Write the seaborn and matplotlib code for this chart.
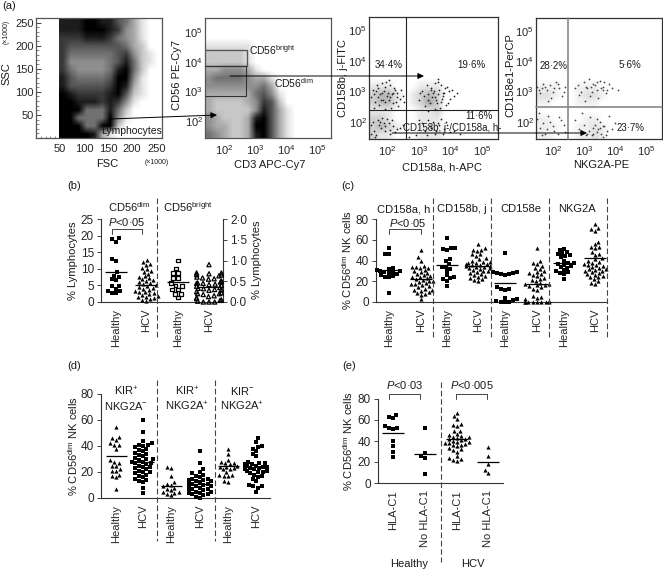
import numpy as np
import pandas as pd
import seaborn as sns
import matplotlib
matplotlib.use('Agg')
import matplotlib.pyplot as plt
import warnings

warnings.filterwarnings('ignore')

W, H = 663, 570
DOT = '\u00b7'

sns.set_style('ticks')
plt.rcParams['font.family'] = ['Liberation Sans', 'DejaVu Sans']
plt.rcParams['mathtext.fontset'] = 'custom'
plt.rcParams['mathtext.rm'] = 'Liberation Sans'
plt.rcParams['mathtext.it'] = 'Liberation Sans:italic'
plt.rcParams['font.size'] = 8

# (a) density maps, 0 = white, 9 = black
fsc_ssc_rows = ['8889988653100', '8889998743100', '7778887543100', '7666666653200',
                '7555555674210', '7444445685210', '7544445895200', '8655556994100',
                '8666667983100', '9877778962100', '9988878741000', '9995558520000',
                '9955559410000', '9995599200000', '9999831000000']
cd3_cd56_rows = ['0000000000000000', '0000000000000000', '0000000000000000', '1111110000000000',
                 '2222210000000000', '2222210000000000', '3344431000000000', '4555543310000000',
                 '4444444530000000', '3333335641000000', '3222234762000000', '3222224863100000',
                 '4322238963100000', '4332239963100000', '5432238963100000']
kir_a_rows = ['0000000000000000', '0000000000000000', '0000000000000000', '0000000000000000',
              '0000000000000000', '0000000000000000', '0000000000000000', '0000000000000000',
              '1110001110000000', '2331012320000000', '2331012420000000', '1110001120000000',
              '2210001110000000', '2321001110000000', '2110001110000000']
kir_e_rows = ['0000000000000000', '0000000000000000', '0000000000000000', '0000000000000000',
              '0000000000000000', '0000000000000000', '0000000000000000', '0000000000000000',
              '1110011100000000', '2210012210000000', '1100011100000000', '0000000000000000',
              '1100001100000000', '1110011210000000', '1100011210000000']

# log10 positions of the single dots in the two KIR plots
kir_a_x = [1.6, 1.7, 1.8, 1.9, 2.0, 2.1, 2.2, 2.3, 2.4, 1.5, 1.65, 1.75, 1.85, 1.95, 2.05, 2.15, 2.25, 2.35, 2.5, 1.55,
           1.72, 1.83, 1.92, 2.02, 2.12, 2.22, 2.32, 1.62, 1.78, 1.88, 1.98, 2.08, 2.18, 2.28, 1.58, 1.68, 2.45, 2.55, 1.95, 2.05,
           3.0, 3.1, 3.2, 3.3, 3.4, 3.5, 3.6, 3.7, 3.8, 3.9, 4.0, 4.1, 3.15, 3.25, 3.35, 3.45, 3.55, 3.65, 3.75, 3.85,
           3.95, 4.2, 3.05, 3.28, 3.42, 3.52, 3.62, 3.72, 3.82, 3.58, 3.48, 3.68, 3.78, 3.38, 3.92, 4.05, 3.6, 3.5, 3.7, 3.3,
           1.5, 1.6, 1.7, 1.8, 1.9, 2.0, 2.1, 2.2, 2.3, 1.55, 1.65, 1.75, 1.85, 1.95, 2.05, 2.15, 2.25, 2.4, 1.62, 1.78,
           1.92, 2.08, 1.48, 2.5, 3.1, 3.2, 3.3, 3.4, 3.5, 3.6, 3.7, 3.8, 3.9, 4.0, 3.25, 3.35, 3.45, 3.55, 3.65, 3.75,
           2.9, 3.0, 3.85, 4.1, 2.7, 4.3]
kir_a_y = [2.9, 3.1, 2.7, 3.0, 2.85, 3.2, 2.6, 2.95, 2.75, 2.8, 3.0, 2.55, 2.95, 3.15, 2.7, 2.9, 3.05, 2.5, 2.85, 3.05,
           2.8, 3.25, 2.65, 2.95, 2.45, 3.1, 2.8, 2.65, 2.9, 2.7, 3.3, 2.8, 2.95, 2.65, 2.45, 3.2, 3.05, 2.65, 2.4, 3.35,
           2.7, 3.0, 2.5, 2.9, 3.1, 2.8, 3.3, 2.65, 2.95, 3.15, 2.75, 2.85, 2.85, 3.2, 2.6, 2.95, 2.7, 3.05, 2.85, 2.55,
           3.0, 2.95, 2.95, 2.7, 2.8, 3.25, 2.9, 2.75, 3.1, 2.6, 3.0, 2.45, 2.95, 3.05, 2.6, 3.05, 3.4, 2.4, 3.2, 2.35,
           1.9, 1.7, 2.05, 1.8, 1.95, 2.1, 1.6, 1.85, 1.75, 2.0, 1.55, 1.9, 2.12, 1.7, 1.95, 2.05, 1.65, 1.8, 1.5, 1.98,
           1.85, 1.72, 1.6, 1.9, 1.95, 1.7, 2.05, 1.8, 1.6, 1.95, 2.1, 1.75, 1.9, 1.65, 1.55, 1.85, 2.0, 1.7, 1.88, 1.6,
           1.55, 2.05, 2.0, 1.7, 1.5, 1.6]
kir_e_x = [1.5, 1.6, 1.7, 1.8, 1.9, 2.0, 2.1, 2.2, 2.3, 2.4, 1.55, 1.75, 1.95, 2.15, 2.35, 1.65, 1.85, 2.05,
           2.7, 2.8, 2.9, 3.0, 3.1, 3.2, 3.3, 3.4, 3.5, 3.6, 3.7, 3.8, 3.9, 2.85, 3.05, 3.15, 3.25, 3.35, 3.45, 3.55, 3.65, 3.75, 4.1,
           3.02, 3.22, 3.42, 3.62,
           1.5, 1.6, 1.75, 1.9, 2.05, 2.2, 2.35, 1.65, 1.85, 2.0, 2.15, 1.55, 1.8, 2.25, 1.7, 2.4,
           2.7, 2.85, 3.0, 3.1, 3.2, 3.3, 3.4, 3.5, 3.6, 3.7, 3.8, 3.9, 4.0, 3.15, 3.25, 3.35, 3.45, 3.55, 3.65, 3.75, 2.95, 3.05, 3.3, 3.5, 3.4, 3.6]
kir_e_y = [3.15, 2.95, 3.25, 3.05, 3.2, 3.0, 3.3, 3.1, 2.85, 3.15, 3.05, 3.15, 2.8, 3.25, 3.0, 3.1, 2.7, 3.1,
           3.1, 3.2, 3.0, 3.3, 3.1, 2.85, 3.25, 3.05, 3.35, 3.15, 2.95, 3.25, 3.1, 2.9, 3.15, 3.4, 3.0, 3.2, 2.8, 3.1, 3.3, 3.05, 3.05,
           2.7, 3.15, 3.3, 3.05,
           2.1, 1.8, 1.6, 2.0, 1.7, 2.15, 1.9, 1.55, 2.2, 1.85, 1.6, 2.3, 1.75, 2.05, 1.95, 1.65,
           2.05, 1.75, 1.9, 1.6, 2.15, 1.8, 1.65, 2.0, 1.85, 1.55, 2.2, 1.75, 1.95, 1.7, 1.55, 1.9, 1.75, 1.6, 1.85, 1.7, 2.3, 1.55, 1.6, 1.8, 2.1, 1.5]

# (b) % lymphocytes
b_labels = ['Healthy', 'HCV', 'Healthy', 'HCV']
b_dim_healthy = [19.2, 18.9, 18.2, 13.0, 12.4, 9.0, 7.9, 7.5, 6.9, 6.5, 4.9, 4.7, 4.0, 3.3, 3.2, 2.6, 2.6]
b_dim_hcv = [12.6, 12.0, 11.5, 11.0, 10.2, 9.8, 9.4, 9.0, 8.5, 7.8, 7.5, 7.2, 6.8, 6.5, 6.2, 5.9, 5.6, 5.3, 5.0, 4.8,
             4.5, 4.2, 4.0, 3.7, 3.4, 3.1, 2.9, 2.6, 2.4, 2.1, 1.9, 1.6, 1.4, 1.1, 0.9, 0.6, 0.3]
b_bright_healthy = [1.0, 0.81, 0.7, 0.7, 0.58, 0.58, 0.46, 0.4, 0.38, 0.3, 0.3, 0.2, 0.2, 0.11]
b_bright_hcv = [0.9, 0.7, 0.7, 0.68, 0.66, 0.65, 0.63, 0.6, 0.58, 0.56, 0.55, 0.5, 0.5, 0.48, 0.46, 0.45, 0.45, 0.43, 0.42, 0.4,
                0.38, 0.35, 0.33, 0.32, 0.3, 0.3, 0.28, 0.25, 0.22, 0.2, 0.2, 0.18, 0.15, 0.13, 0.1, 0.08, 0.05, 0.04, 0.02, 0.0, 0.0, 0.0]
b_dim_means = [9.0, 5.0]
b_bright_means = [0.47, 0.36]

# (c) % CD56dim NK cells
c_labels = ['Healthy', 'HCV'] * 4
c_values = [
    [52, 46, 46, 33, 32, 31, 30, 30, 29, 29, 28, 27, 26, 25, 24, 24, 9],
    [50, 43, 40, 35, 34, 34, 33, 33, 31, 30, 29, 28, 27, 26, 25, 24, 24, 23, 22, 21, 20, 20, 19, 18, 17, 17, 16, 15, 14, 13, 12, 12, 11, 10, 9, 8, 7, 3],
    [62, 52, 52, 51, 50, 41, 40, 37, 34, 34, 32, 30, 26, 24, 23, 22, 20, 15],
    [56, 52, 50, 50, 49, 46, 46, 44, 42, 41, 40, 39, 39, 38, 38, 37, 37, 36, 36, 35, 35, 34, 34, 33, 33, 32, 31, 30, 30, 29, 28, 27, 26, 25, 24, 23, 22, 21, 20],
    [47, 29, 29, 28, 28, 27, 27, 26, 14, 13, 13, 12, 4, 3, 2, 1, 0, 0, 0],
    [52, 40, 38, 37, 35, 33, 32, 30, 29, 28, 27, 26, 25, 23, 22, 21, 20, 18, 17, 17, 16, 16, 15, 14, 13, 12, 6, 5, 4, 3, 1, 0, 0, 0, 0, 0, 0, 0, 0],
    [51, 50, 48, 47, 46, 45, 44, 43, 40, 38, 38, 37, 36, 35, 34, 33, 31, 30, 29, 28, 27, 22],
    [75, 71, 70, 68, 58, 56, 53, 53, 52, 48, 46, 45, 42, 41, 40, 39, 38, 37, 36, 36, 35, 34, 33, 32, 32, 31, 30, 30, 29, 28, 27, 26, 25, 24, 24, 22, 20, 18, 17],
]
c_means = [31, 22, 36, 35, 18, 17, 38, 42]

# (d) % CD56dim NK cells
d_labels = ['Healthy', 'HCV'] * 3
d_values = [
    [55, 47, 46, 45, 42, 41, 41, 38, 29, 28, 27, 25, 25, 22, 21, 21, 18, 17, 16, 7],
    [60, 51, 44, 42, 41, 41, 40, 39, 38, 37, 36, 35, 34, 33, 32, 31, 30, 30, 29, 28, 28, 27, 27, 26, 25, 24, 24, 23, 22, 21, 20, 20, 19, 18, 17, 16, 15, 14, 13, 12, 8, 4],
    [24, 23, 17, 12, 11, 10, 9, 8, 7, 6, 5, 5, 4, 3, 2],
    [36, 27, 22, 20, 19, 18, 17, 16, 15, 15, 14, 14, 13, 13, 12, 12, 11, 11, 10, 10, 9, 9, 8, 8, 7, 7, 6, 6, 5, 5, 5, 4, 4, 3, 3, 2, 1, 0],
    [38, 34, 29, 28, 27, 27, 26, 25, 24, 24, 23, 22, 22, 20, 18, 18, 17, 17, 13, 12],
    [46, 43, 40, 39, 38, 36, 34, 32, 28, 27, 27, 26, 26, 25, 25, 24, 24, 24, 23, 23, 22, 22, 21, 21, 20, 20, 19, 18, 17, 16, 15, 13, 10, 9, 9, 8, 5],
]
d_means = [32, 28, 9, 11, 25, 24]

# (e) % CD56dim NK cells
e_labels = ['HLA-C1', 'No HLA-C1', 'HLA-C1', 'No HLA-C1']
e_values = [
    [65, 63, 62, 54, 52, 52, 51, 40, 35, 30, 25],
    [52, 29, 26, 24, 9],
    [67, 64, 61, 56, 55, 54, 50, 50, 47, 46, 45, 44, 44, 43, 42, 42, 41, 40, 39, 39, 38, 38, 37, 36, 36, 35, 33, 32, 31, 30, 26, 24, 23, 22, 21],
    [34, 26, 18, 12, 9.5],
]
e_means = [48, 28, 42, 20]

fig = plt.figure(figsize=(W / 100, H / 100), dpi=100, facecolor='white')


def add_ax(left, top, right, bottom):
    return fig.add_axes([left / W, 1 - bottom / H, (right - left) / W, (bottom - top) / H])


def log_ticks(axis, lo, hi):
    axis.set_ticks([2, 3, 4, 5])
    axis.set_ticklabels(['10$^{%d}$' % i for i in [2, 3, 4, 5]])
    minor = [d + np.log10(k) for d in range(1, 6) for k in range(2, 10)]
    axis.set_ticks([m for m in minor if lo < m < hi], minor=True)


def facs_frame(ax, color):
    for s in ax.spines.values():
        s.set_linewidth(0.9)
        s.set_color(color)
    ax.tick_params(which='major', direction='in', length=3.5, width=0.6, labelsize=8)
    ax.tick_params(axis='x', which='major', pad=4)
    ax.tick_params(axis='y', which='major', pad=1.5)
    ax.tick_params(which='minor', direction='in', length=1.8, width=0.4)


def density(ax, rows, extent, vmax=9):
    grid = np.array([[int(c) for c in r] for r in rows], dtype=float)
    ax.imshow(grid, extent=extent, aspect='auto', cmap='gray_r', vmin=0, vmax=vmax,
              interpolation='bilinear', zorder=1)


# --- (a) dot plots
ax1 = add_ax(36, 18, 162, 138)
density(ax1, fsc_ssc_rows, [48, 262, 0, 260])
ax1.set_xlim(0, 262)
ax1.set_ylim(0, 260)
ax1.set_xticks([50, 100, 150, 200, 250])
ax1.set_yticks([50, 100, 150, 200, 250])
ax1.set_xticks(range(10, 260, 10), minor=True)
ax1.set_yticks(range(10, 260, 10), minor=True)
facs_frame(ax1, '#555555')

ax2 = add_ax(205, 18, 331, 138)
density(ax2, cd3_cd56_rows, [1.39, 5.45, 1.43, 5.47])
ax2.set_xlim(1.39, 5.45)
ax2.set_ylim(1.43, 5.47)
log_ticks(ax2.xaxis, 1.39, 5.45)
log_ticks(ax2.yaxis, 1.43, 5.47)
facs_frame(ax2, '#555555')

ax3 = add_ax(369, 17, 498, 139)
density(ax3, kir_a_rows, [1.43, 5.5, 1.43, 5.43], vmax=11)
sns.scatterplot(x=kir_a_x, y=kir_a_y, s=1.6, color='#222222', linewidth=0, legend=False, ax=ax3, zorder=2)
ax3.set_xlim(1.43, 5.5)
ax3.set_ylim(1.43, 5.43)
log_ticks(ax3.xaxis, 1.43, 5.5)
log_ticks(ax3.yaxis, 1.43, 5.43)
facs_frame(ax3, '#333333')

ax4 = add_ax(536, 18, 662, 139)
density(ax4, kir_e_rows, [1.46, 5.5, 1.43, 5.43], vmax=16)
sns.scatterplot(x=kir_e_x, y=kir_e_y, s=1.6, color='#444444', linewidth=0, legend=False, ax=ax4, zorder=2)
ax4.set_xlim(1.46, 5.5)
ax4.set_ylim(1.43, 5.43)
log_ticks(ax4.xaxis, 1.46, 5.5)
log_ticks(ax4.yaxis, 1.43, 5.43)
facs_frame(ax4, '#333333')


# --- dot panels below
def swarm(ax, pos, vals, marker, size=3.0, hollow=False):
    n0 = len(ax.collections)
    sns.swarmplot(x=np.full(len(vals), pos, dtype=float), y=np.array(vals, dtype=float),
                  orient='x', native_scale=True, color='black', marker=marker, size=size,
                  linewidth=0, ax=ax, clip_on=False, zorder=3)
    if hollow:
        for c in ax.collections[n0:]:
            c.set_facecolor('none')
            c.set_edgecolor('black')
            c.set_linewidth(0.9)


def dot_frame(ax, yticks):
    sns.despine(ax=ax)
    for side in ['left', 'bottom']:
        ax.spines[side].set_linewidth(0.8)
        ax.spines[side].set_color('#333333')
    ax.set_yticks(yticks)
    ax.set_yticklabels([str(t) for t in yticks])
    ax.tick_params(axis='y', length=3, width=0.6, labelsize=8.5, pad=2)
    ax.tick_params(axis='x', length=0, labelsize=8, labelrotation=90, pad=5)
    ax.patch.set_alpha(0)


def dot_panel(box, unit, px, values, labels, markers, means, half):
    ax = add_ax(*box)
    pos = [p / unit for p in px]
    for i, vals in enumerate(values):
        swarm(ax, pos[i], vals, markers[i])
    ax.hlines(means, [p - half for p in pos], [p + half for p in pos], color='black', lw=0.9, zorder=4)
    ax.set_xlim(box[0] / unit, box[2] / unit)
    ax.set_ylim(0, 80)
    ax.set_xticks(pos)
    ax.set_xticklabels(labels)
    dot_frame(ax, [0, 20, 40, 60, 80])
    return ax


# (b) has two y axes, the left one for CD56dim and the right one for CD56bright
b_box = (101, 219, 223, 302)
b_pos = [p / 31 for p in [116, 146, 178, 209]]
axb = add_ax(*b_box)
swarm(axb, b_pos[0], b_dim_healthy, 's')
swarm(axb, b_pos[1], b_dim_hcv, '^')
axb.hlines(b_dim_means, [p - 0.34 for p in b_pos[:2]], [p + 0.34 for p in b_pos[:2]], color='black', lw=0.9, zorder=4)
axb.set_xlim(101 / 31, 223 / 31)
axb.set_ylim(0, 25)
axb.set_xticks(b_pos)
axb.set_xticklabels(b_labels)
dot_frame(axb, [0, 5, 10, 15, 20, 25])

axb2 = add_ax(*b_box)
swarm(axb2, b_pos[2], b_bright_healthy, 's', size=2.6, hollow=True)
swarm(axb2, b_pos[3], b_bright_hcv, '^', size=3.0, hollow=True)
axb2.hlines(b_bright_means, [p - 0.34 for p in b_pos[2:]], [p + 0.34 for p in b_pos[2:]], color='black', lw=0.9, zorder=4)
axb2.set_xlim(101 / 31, 223 / 31)
axb2.set_ylim(0, 2)
axb2.set_xticks([])
axb2.set_yticks([0, 0.5, 1, 1.5, 2])
axb2.set_yticklabels(['0%s0' % DOT, '0%s5' % DOT, '1%s0' % DOT, '1%s5' % DOT, '2%s0' % DOT])
axb2.yaxis.tick_right()
axb2.patch.set_alpha(0)
for side in ['top', 'left', 'bottom']:
    axb2.spines[side].set_visible(False)
axb2.spines['right'].set_visible(True)
axb2.spines['right'].set_linewidth(0.8)
axb2.spines['right'].set_color('#333333')
axb2.tick_params(axis='y', length=3, width=0.6, labelsize=8.5, pad=2)

dot_panel((376, 219, 607, 302), 31, [389, 421, 447, 478, 505, 537, 564, 595], c_values, c_labels,
          ['s', '^'] * 4, c_means, 0.34)
# (d) has triangles for Healthy and squares for HCV, the other way round from (c)
dot_panel((101, 394, 270, 498), 28, [116, 143, 171, 200, 228, 256], d_values, d_labels,
          ['^', 's'] * 3, d_means, 0.375)
dot_panel((378, 399, 503, 483), 31, [393, 425, 457, 488], e_values, e_labels,
          ['s', 's', '^', '^'], e_means, 0.35)

# --- overlay in pixel coordinates for the gates, arrows and free text
ov = fig.add_axes([0, 0, 1, 1], zorder=10)
ov.set_xlim(0, W)
ov.set_ylim(H, 0)
ov.axis('off')
ov.patch.set_alpha(0)


def label(x, y, s, size=8, rot=0, ha='center', color='#1a1a1a'):
    ov.text(x, y, s, fontsize=size, rotation=rot, ha=ha, va='center', color=color)


def arrow(x0, y0, x1, y1):
    ov.annotate('', xy=(x1, y1), xytext=(x0, y0),
                arrowprops=dict(arrowstyle='-|>,head_length=0.45,head_width=0.22', color='black', lw=0.7,
                                shrinkA=0, shrinkB=0))


def dashed(x, y0, y1):
    ov.plot([x, x], [y0, y1], color='#444444', lw=0.8, dashes=(5, 2.5))


def bracket(x0, x1, y):
    ov.plot([x0, x0, x1, x1], [y + 5, y, y, y + 5], color='#444444', lw=0.7)


# gates
ov.plot([205, 247, 247, 205], [50, 50, 66, 66], color='#555555', lw=1.0)
ov.plot([205, 246, 246, 205], [66, 66, 96, 96], color='#333333', lw=0.8)
ov.plot([406, 406], [17, 139], color='#222222', lw=0.8)
ov.plot([369, 498], [110, 110], color='#222222', lw=0.8)
ov.plot([568, 568], [18, 139], color='#888888', lw=1.2)
ov.plot([536, 662], [107, 107], color='#888888', lw=1.2)

arrow(110, 119, 217, 115)
arrow(230, 76, 424, 76)
arrow(392, 133, 587, 133)

label(2, 6, '(a)', ha='left')
label(67, 186, '(b)', ha='left')
label(341, 186, '(c)', ha='left')
label(67, 366, '(d)', ha='left')
label(342, 366, '(e)', ha='left')

label(6, 74, 'SSC', rot=90)
label(6, 32, '(\u00d71000)', size=5, rot=90)
label(107, 164, 'FSC')
label(157, 163, '(\u00d71000)', size=5)
label(132, 131, 'Lymphocytes', size=7.5)
label(177, 75, 'CD56 PE-Cy7', rot=90)
label(270, 165, 'CD3 APC-Cy7')
label(272, 50, 'CD56$^{\\mathrm{bright}}$', size=7.5)
label(294, 83, 'CD56$^{\\mathrm{dim}}$', size=7.5)

label(343, 78, 'CD158b, j-FITC', rot=90)
label(442, 167, 'CD158a, h-APC')
label(389, 65, '34%s4%%' % DOT, size=7)
label(471, 65, '19%s6%%' % DOT, size=7)
label(479, 116, '11%s6%%' % DOT, size=7)
label(452, 128, 'CD158b, j-/CD158a, h-', size=7)
label(510, 75, 'CD158e1-PerCP', rot=90)
label(601, 165, 'NKG2A-PE')
label(554, 66, '28%s2%%' % DOT, size=7)
label(630, 65, '5%s6%%' % DOT, size=7)
label(631, 128, '23%s7%%' % DOT, size=7)

# (b)
label(129, 207, 'CD56$^{\\mathrm{dim}}$')
label(188, 207, 'CD56$^{\\mathrm{bright}}$')
label(127, 222, '$\\mathit{P}$<0%s05' % DOT)
bracket(112, 142, 229)
label(73, 261, '% Lymphocytes', rot=90)
label(257, 260, '% Lymphocytes', rot=90)
dashed(157, 198, 337)

# (c)
for x, s in zip([404, 462, 521, 577], ['CD158a, h', 'CD158b, j', 'CD158e', 'NKG2A']):
    label(x, 209, s)
label(408, 223, '$\\mathit{P}$<0%s05' % DOT)
bracket(389, 421, 229)
label(347, 260, '% CD56$^{\\mathrm{dim}}$ NK cells', rot=90)
for x in [433, 491, 549, 607]:
    dashed(x, 198, 337)

# (d)
for x, top, bottom in [(126, 'KIR$^{+}$', 'NKG2A$^{-}$'), (187, 'KIR$^{+}$', 'NKG2A$^{+}$'), (242, 'KIR$^{-}$', 'NKG2A$^{+}$')]:
    label(x, 391, top)
    label(x, 406, bottom)
label(73, 446, '% CD56$^{\\mathrm{dim}}$ NK cells', rot=90)
for x in [157, 215]:
    dashed(x, 380, 541)

# (e)
label(405, 385, '$\\mathit{P}$<0%s03' % DOT)
label(472, 385, '$\\mathit{P}$<0%s005' % DOT)
bracket(389, 420, 394)
bracket(456, 487, 394)
label(348, 441, '% CD56$^{\\mathrm{dim}}$ NK cells', rot=90)
label(409, 564, 'Healthy')
label(473, 564, 'HCV')
dashed(441, 382, 562)

fig.savefig('out.png', dpi=100)
